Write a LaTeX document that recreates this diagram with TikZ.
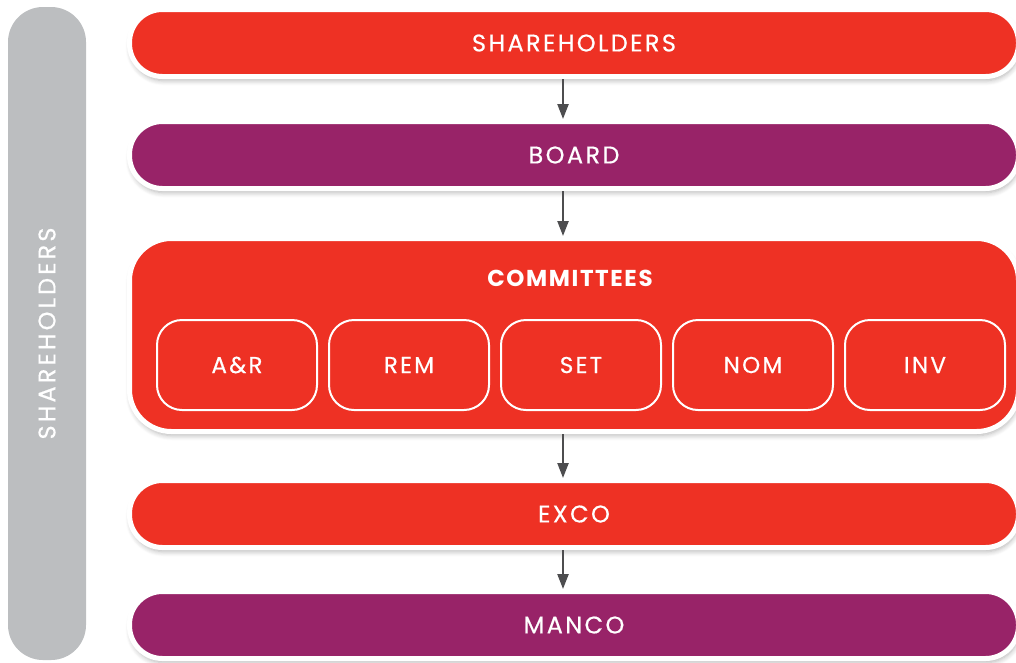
\documentclass[tikz,border=0pt]{standalone}
\usepackage{fontspec}
\setmainfont{Poppins}
\newfontfamily\tierfont{Poppins}[FakeBold=0.5, LetterSpace=10]
\newfontfamily\sidefont{Poppins}[FakeBold=0.5, LetterSpace=13]
\newfontfamily\headfont{Poppins Bold}[LetterSpace=7]
\usetikzlibrary{
    positioning,
    arrows.meta,
    shadows.blur
}
\definecolor{TierRed}{RGB}{238,49,36}
\definecolor{TierPurple}{RGB}{152,35,104}
\definecolor{SideGray}{RGB}{188,190,192}
\definecolor{ArrowGray}{RGB}{77,77,79}

\begin{document}
\begin{tikzpicture}[
    x=1pt, y=-1pt,
    tier/.style={rectangle, draw=white, line width=5pt, rounded corners=33pt, inner sep=0pt, minimum width=889pt, minimum height=67pt, text=white, font=\tierfont\fontsize{24}{26}\selectfont, blur shadow={shadow xshift=1pt, shadow yshift=-4pt, shadow blur radius=5pt, shadow blur steps=6, shadow opacity=30}},
    cbox/.style={rectangle, draw=white, line width=2pt, rounded corners=25pt, inner sep=0pt, minimum width=160pt, minimum height=90pt, text=white, font=\tierfont\fontsize{23}{25}\selectfont},
    sidebar/.style={rectangle, rotate=90, fill=SideGray, rounded corners=35pt, inner sep=0pt, minimum width=653pt, minimum height=78pt, text=white, font=\sidefont\fontsize{24}{26}\selectfont},
    arr/.style={line width=2.3pt, color=ArrowGray, -{Triangle[length=15pt, width=11pt]}},
]
\useasboundingbox (0,0) rectangle (1016,662);

\node[sidebar] (side) at (47,333.5) {SHAREHOLDERS};

\node[tier, fill=TierRed] (sh) at (574,43) {SHAREHOLDERS};
\node[tier, fill=TierPurple, below=40pt of sh] (bd) {BOARD};
\node[tier, fill=TierRed, below=45pt of bd, minimum height=193pt, rounded corners=42pt] (cm) {};
\node[tier, fill=TierRed, below=44pt of cm] (ex) {EXCO};
\node[tier, fill=TierPurple, below=39pt of ex] (mc) {MANCO};

% committees inside the big box
\node[text=white, font=\headfont\fontsize{23}{25}\selectfont] (cmtitle) at (570,278) {COMMITTEES};
\node[cbox] (ar) at (237,365) {A\&R};
\node[cbox, right=10pt of ar] (rem) {REM};
\node[cbox, right=10pt of rem] (set) {SET};
\node[cbox, right=10pt of set] (nom) {NOM};
\node[cbox, right=10pt of nom] (inv) {INV};

\coordinate (ax) at (563,0);
\draw[arr] (sh.south -| ax) -- (bd.north -| ax);
\draw[arr] (bd.south -| ax) -- (cm.north -| ax);
\draw[arr] (cm.south -| ax) -- (ex.north -| ax);
\draw[arr] (ex.south -| ax) -- (mc.north -| ax);
\end{tikzpicture}
\end{document}
